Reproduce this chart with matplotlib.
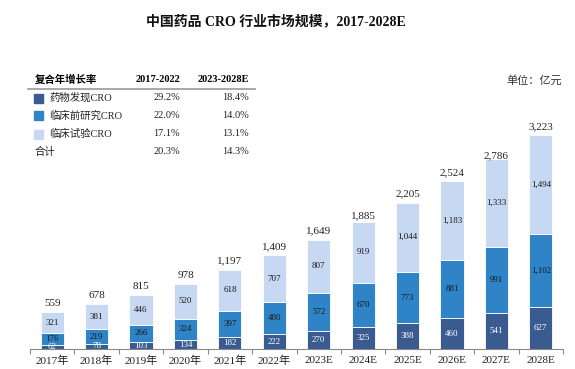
import numpy as np
import matplotlib
matplotlib.use("Agg")
import matplotlib.pyplot as plt
from matplotlib.patches import Rectangle

plt.rcParams['font.family'] = ['Liberation Serif', 'Noto Sans CJK SC', 'DejaVu Sans']

years = ["2017年", "2018年", "2019年", "2020年", "2021年", "2022年",
         "2023E", "2024E", "2025E", "2026E", "2027E", "2028E"]
discovery = [62, 78, 103, 134, 182, 222, 270, 325, 388, 460, 541, 627]
preclinical = [176, 219, 266, 324, 397, 480, 572, 670, 773, 881, 991, 1102]
clinical = [321, 381, 446, 520, 618, 707, 807, 919, 1044, 1183, 1333, 1494]
totals = [559, 678, 815, 978, 1197, 1409, 1649, 1885, 2205, 2524, 2786, 3223]

series_names = ["药物发现CRO", "临床前研究CRO", "临床试验CRO"]
cagr_hist = ["29.2%", "22.0%", "17.1%", "20.3%"]
cagr_fcst = ["18.4%", "14.0%", "13.1%", "14.3%"]

c_dark = "#3A5B8F"
c_mid = "#2E84C6"
c_light = "#C7D8F2"
colors = [c_dark, c_mid, c_light]

W, H = 575, 369
fig = plt.figure(figsize=(W / 100, H / 100), dpi=100)
ax = fig.add_axes([30 / W, 20 / H, 533 / W, 309 / H])

x = np.arange(len(years))
bw = 0.52
ax.bar(x, discovery, bw, color=c_dark, edgecolor="white", linewidth=0.6)
ax.bar(x, preclinical, bw, bottom=discovery, color=c_mid, edgecolor="white", linewidth=0.6)
bottom3 = np.array(discovery) + np.array(preclinical)
ax.bar(x, clinical, bw, bottom=bottom3, color=c_light, edgecolor="white", linewidth=0.6)

def fmt(v):
    return f"{v:,}"

for i in range(len(years)):
    ax.text(x[i], discovery[i] / 2, fmt(discovery[i]), ha="center", va="center",
            fontsize=6.5, color="white")
    ax.text(x[i], discovery[i] + preclinical[i] / 2, fmt(preclinical[i]), ha="center",
            va="center", fontsize=6.5, color="#1a1a1a")
    ax.text(x[i], bottom3[i] + clinical[i] / 2, fmt(clinical[i]), ha="center",
            va="center", fontsize=6.5, color="#1a1a1a")
    ax.text(x[i], totals[i] + 60, fmt(totals[i]), ha="center", va="bottom",
            fontsize=8, color="#222222")

ax.set_xlim(-0.5, 11.5)
ax.set_ylim(0, 4654)
ax.set_xticks(x)
ax.set_xticklabels(years, fontsize=8, color="#222222")
ax.set_xticks(np.arange(-0.5, 12, 1), minor=True)
ax.tick_params(axis="x", which="major", length=0, pad=5)
ax.tick_params(axis="x", which="minor", length=3.5, color="#888888", width=0.8)
ax.set_yticks([])
for s in ["top", "right", "left"]:
    ax.spines[s].set_visible(False)
ax.spines["bottom"].set_color("#888888")
ax.spines["bottom"].set_linewidth(0.8)

# title
fig.text(276 / W, 1 - 21 / H, "中国药品 CRO 行业市场规模，2017-2028E", ha="center", va="center",
         fontsize=10, fontweight="bold", color="#111111")

# unit
fig.text(562 / W, 1 - 80 / H, "单位：亿元", ha="right", va="center", fontsize=8, color="#333333")

# CAGR table
def py(p):
    return 1 - p / H

fig.text(35 / W, py(80), "复合年增长率", ha="left", va="center", fontsize=7.5, fontweight="bold")
fig.text(180 / W, py(80), "2017-2022", ha="right", va="center", fontsize=7.5, fontweight="bold")
fig.text(249 / W, py(80), "2023-2028E", ha="right", va="center", fontsize=7.5, fontweight="bold")
fig.add_artist(plt.Line2D([28 / W, 255 / W], [py(89), py(89)], color="#999999", lw=1.2))

row_y = [98, 116, 134, 152]
for j in range(4):
    if j < 3:
        fig.add_artist(Rectangle((34 / W, py(row_y[j] + 4.5)), 9 / W, 9 / H,
                                 color=colors[j], transform=fig.transFigure))
        label = series_names[j]
        lx = 49
    else:
        label = "合计"
        lx = 35
    fig.text(lx / W, py(row_y[j]), label, ha="left", va="center", fontsize=7.5, color="#222222")
    fig.text(180 / W, py(row_y[j]), cagr_hist[j], ha="right", va="center", fontsize=7.5, color="#222222")
    fig.text(249 / W, py(row_y[j]), cagr_fcst[j], ha="right", va="center", fontsize=7.5, color="#222222")

fig.savefig("out.png", dpi=100)
